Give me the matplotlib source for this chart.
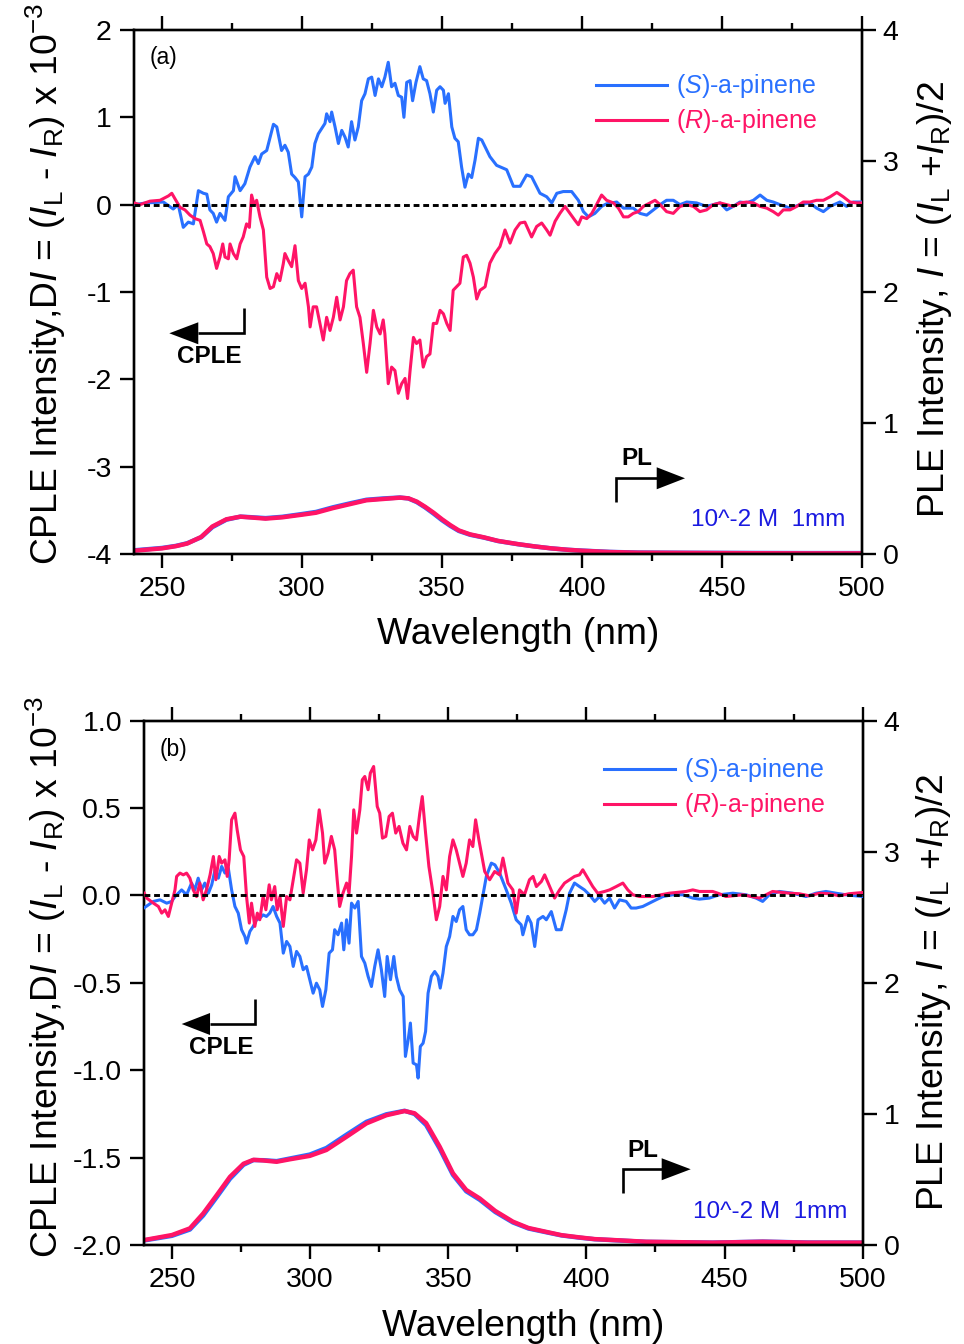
import matplotlib
matplotlib.use("Agg")
import matplotlib.pyplot as plt
from matplotlib.patches import Polygon
from matplotlib.ticker import MultipleLocator, FormatStrFormatter

plt.rcParams['font.family'] = ['Liberation Sans', 'DejaVu Sans']
plt.rcParams['mathtext.fontset'] = 'custom'
plt.rcParams['mathtext.rm'] = 'Liberation Sans'
plt.rcParams['mathtext.it'] = 'Liberation Sans:italic'
plt.rcParams['mathtext.bf'] = 'Liberation Sans:bold'
plt.rcParams['axes.unicode_minus'] = False

BLUE = '#2970FF'
PINK = '#FF1466'
NOTE_BLUE = '#1A1AE0'

# ---------------- panel (a): CPLE (x 10^-3) vs wavelength (nm) ----------------
CPLE_S_A = [
    (240, 0.0), (244.5, 0.02), (250.5, 0.03), (254.0, -0.05), (255.8, 0.0), (257.6, -0.26),
    (259.4, -0.2), (261.2, -0.22), (263.0, 0.16), (264.8, 0.13), (266.0, 0.12), (267.1, -0.06),
    (268.3, -0.1), (269.5, -0.2), (270.7, -0.1), (272.5, -0.18), (273.7, 0.09), (275.5, 0.16),
    (276.1, 0.32), (277.9, 0.16), (279.6, 0.24), (281.4, 0.43), (283.2, 0.55), (284.4, 0.47),
    (285.6, 0.58), (287.4, 0.62), (288.6, 0.77), (289.8, 0.92), (291.0, 0.89), (292.7, 0.62),
    (293.9, 0.68), (295.1, 0.60), (296.3, 0.35), (297.5, 0.31), (298.7, 0.26), (299.9, -0.14),
    (301.1, 0.32), (302.3, 0.35), (303.5, 0.43), (304.6, 0.70), (305.8, 0.81), (307.0, 0.87),
    (308.2, 0.93), (308.8, 1.04), (310.0, 0.95), (310.6, 1.06), (311.8, 0.89), (313.0, 0.70),
    (314.2, 0.85), (315.4, 0.77), (316.5, 0.66), (317.7, 0.95), (318.9, 0.74), (320.1, 0.89),
    (321.3, 1.19), (322.5, 1.27), (323.7, 1.44), (324.9, 1.46), (326.1, 1.25), (327.3, 1.44),
    (328.5, 1.35), (329.6, 1.46), (330.8, 1.63), (332.0, 1.35), (333.2, 1.39), (334.4, 1.25),
    (335.6, 1.23), (336.4, 1.0), (337.4, 1.40), (338.6, 1.42), (339.5, 1.19), (340.7, 1.40),
    (342.1, 1.58), (343.3, 1.44), (344.5, 1.42), (345.7, 1.27), (346.9, 1.06), (348.1, 1.31),
    (349.3, 1.35), (350.5, 1.31), (351.1, 1.16), (352.3, 1.27), (353.5, 0.89), (354.6, 0.76),
    (355.8, 0.72), (357.0, 0.43), (358.2, 0.20), (359.4, 0.35), (360.6, 0.31), (361.8, 0.51),
    (363.0, 0.76), (364.2, 0.74), (367.1, 0.55), (369.5, 0.45), (373.1, 0.40), (375.5, 0.21),
    (377.9, 0.21), (380.2, 0.34), (382.0, 0.32), (385.0, 0.13), (387.4, 0.09), (389.2, 0.02),
    (391.0, 0.13), (393.3, 0.15), (396.3, 0.15), (398.7, 0.05), (400.5, -0.08), (402.3, -0.14),
    (404.6, -0.10), (407.0, -0.02), (408.8, 0.01), (412.4, 0.03), (414.8, -0.04), (418.3, -0.04),
    (420.7, -0.10), (423.1, -0.12), (425.5, -0.06), (427.9, 0.0), (430.2, 0.05), (432.6, 0.05),
    (435.0, 0.0), (437.4, 0.03), (440.9, 0.02), (444.5, -0.02), (446.9, 0.0), (449.3, 0.02),
    (451.7, -0.06), (454.0, -0.02), (456.4, 0.03), (458.8, 0.02), (461.2, 0.05), (463.6, 0.11),
    (466.0, 0.05), (468.3, 0.03), (470.7, 0.0), (474.3, -0.04), (477.9, 0.0), (481.4, 0.02),
    (483.8, -0.04), (486.2, -0.08), (488.6, -0.02), (492.1, 0.03), (494.5, -0.02), (496.9, 0.03),
    (500, 0.03),
]

CPLE_R_A = [
    (240, 0.02), (242.1, 0.0), (245.7, 0.04), (249.3, 0.05), (252.3, 0.10), (253.5, 0.13),
    (254.6, 0.07), (256.4, -0.03), (258.2, -0.06), (260.0, -0.12), (261.8, -0.16), (263.6, -0.18),
    (264.8, -0.31), (266.0, -0.45), (267.1, -0.48), (268.3, -0.56), (269.5, -0.73), (270.7, -0.60),
    (271.7, -0.45), (272.5, -0.60), (273.7, -0.62), (274.3, -0.45), (275.5, -0.56), (276.7, -0.62),
    (277.9, -0.45), (279.0, -0.37), (280.2, -0.22), (281.2, -0.26), (282.0, 0.11), (282.9, 0.0),
    (283.8, 0.05), (285.0, -0.14), (286.2, -0.29), (287.4, -0.83), (288.6, -0.96), (289.8, -0.94),
    (291.0, -0.79), (292.1, -0.87), (293.3, -0.68), (293.9, -0.56), (295.1, -0.64), (296.3, -0.71),
    (297.5, -0.47), (298.7, -0.87), (299.9, -0.96), (301.1, -0.90), (302.3, -1.17), (302.9, -1.40),
    (304.0, -1.17), (305.2, -1.17), (306.4, -1.36), (307.6, -1.55), (308.8, -1.29), (310.0, -1.44),
    (311.2, -1.29), (312.4, -1.06), (313.6, -1.32), (314.8, -1.17), (315.9, -0.87), (317.1, -0.79),
    (318.3, -0.75), (319.5, -1.17), (320.7, -1.29), (321.9, -1.59), (323.1, -1.92), (324.3, -1.59),
    (325.5, -1.21), (326.7, -1.40), (327.9, -1.48), (329.0, -1.32), (329.6, -1.48), (330.8, -2.05),
    (332.0, -1.86), (333.2, -1.90), (334.4, -2.16), (335.6, -2.05), (336.8, -1.99), (337.7, -2.22),
    (338.6, -1.90), (339.8, -1.52), (340.9, -1.59), (342.1, -1.55), (343.3, -1.86), (344.5, -1.74),
    (345.7, -1.71), (346.9, -1.36), (348.1, -1.36), (349.3, -1.21), (350.5, -1.25), (351.7, -1.36),
    (352.9, -1.44), (354.0, -0.98), (355.2, -0.94), (356.4, -0.90), (357.6, -0.60), (358.8, -0.58),
    (360.0, -0.67), (361.2, -0.83), (362.4, -1.08), (363.6, -0.98), (365.4, -0.94), (367.1, -0.67),
    (368.9, -0.56), (370.7, -0.48), (372.5, -0.29), (374.3, -0.44), (376.1, -0.29), (377.9, -0.21),
    (379.6, -0.20), (382.0, -0.37), (383.8, -0.25), (385.6, -0.21), (387.4, -0.29), (388.6, -0.35),
    (390.4, -0.19), (392.1, -0.10), (393.9, -0.02), (395.7, -0.10), (397.5, -0.18), (398.7, -0.23),
    (399.9, -0.14), (401.7, -0.16), (403.5, -0.10), (405.2, 0.0), (407.0, 0.11), (408.8, 0.05),
    (411.2, 0.02), (413.0, -0.04), (414.8, -0.14), (416.5, -0.14), (418.3, -0.10), (420.1, -0.08),
    (421.9, -0.02), (424.3, 0.02), (426.1, 0.05), (427.9, 0.0), (430.2, -0.08), (432.6, -0.10),
    (435.0, -0.02), (437.4, 0.0), (439.8, -0.02), (442.1, -0.08), (444.5, -0.06), (446.9, 0.0),
    (449.3, 0.02), (451.7, 0.0), (454.0, -0.02), (456.4, 0.02), (458.8, 0.03), (461.2, 0.02),
    (463.6, -0.02), (466.0, -0.04), (468.3, -0.08), (470.1, -0.12), (471.9, -0.06), (474.3, -0.06),
    (476.7, -0.02), (479.0, 0.03), (481.4, 0.03), (483.8, 0.05), (486.2, 0.05), (488.6, 0.09),
    (491.0, 0.14), (493.3, 0.09), (495.7, 0.03), (498.1, 0.02), (500, 0.02),
]

# PLE intensity, right axis
PLE_S_A = [
    (240, 0.028), (250, 0.046), (255, 0.062), (259, 0.082), (264, 0.128), (268, 0.205),
    (273, 0.262), (278, 0.285), (281, 0.282), (287, 0.274), (293, 0.284), (300, 0.305),
    (305, 0.321), (311, 0.356), (317, 0.386), (323, 0.414), (329, 0.424), (335, 0.431),
    (338, 0.424), (341, 0.396), (344, 0.355), (347, 0.308), (350, 0.258), (353, 0.214),
    (356, 0.176), (360, 0.147), (365, 0.125), (370, 0.099), (377, 0.075), (383, 0.058),
    (389, 0.043), (395, 0.032), (400, 0.026), (410, 0.016), (420, 0.011), (440, 0.009),
    (460, 0.008), (480, 0.007), (500, 0.007),
]
PLE_R_A = [
    (240, 0.025), (250, 0.043), (255, 0.060), (259, 0.080), (264, 0.130), (268, 0.210),
    (273, 0.265), (278, 0.285), (281, 0.280), (287, 0.270), (293, 0.280), (300, 0.300),
    (305, 0.315), (311, 0.350), (317, 0.380), (323, 0.410), (329, 0.420), (335, 0.430),
    (338, 0.425), (341, 0.400), (344, 0.360), (347, 0.315), (350, 0.265), (353, 0.220),
    (356, 0.180), (360, 0.150), (365, 0.127), (370, 0.100), (377, 0.076), (383, 0.058),
    (389, 0.043), (395, 0.032), (400, 0.025), (410, 0.015), (420, 0.010), (440, 0.008),
    (460, 0.006), (480, 0.005), (500, 0.005),
]

# ---------------- panel (b) ----------------
CPLE_S_B = [
    (240, -0.07), (243.3, -0.034), (245.7, -0.025), (248.1, -0.044), (249.9, -0.034),
    (251.1, -0.006), (252.3, 0.013), (253.5, 0.032), (255.3, 0.004), (257.1, 0.071),
    (258.3, 0.032), (259.5, 0.099), (260.7, 0.032), (261.9, 0.071), (263.2, 0.013),
    (264.4, 0.061), (265.6, 0.147), (266.8, 0.099), (268.0, 0.166), (269.2, 0.128),
    (270.4, 0.156), (271.6, 0.032), (272.8, -0.063), (274.0, -0.101), (275.2, -0.196),
    (276.4, -0.235), (277.0, -0.273), (278.2, -0.206), (279.4, -0.177), (280.6, -0.139),
    (281.8, -0.13), (283.0, -0.111), (284.2, -0.12), (285.4, -0.101), (286.6, -0.063),
    (287.9, -0.12), (289.1, -0.158), (290.3, -0.33), (291.5, -0.263), (292.7, -0.292),
    (293.9, -0.406), (295.1, -0.32), (296.3, -0.349), (297.5, -0.425), (298.7, -0.406),
    (299.9, -0.482), (301.1, -0.559), (302.3, -0.502), (303.5, -0.54), (304.5, -0.635),
    (305.7, -0.54), (306.9, -0.33), (308.1, -0.311), (308.9, -0.196), (310.1, -0.225),
    (311.4, -0.158), (312.2, -0.311), (313.2, -0.139), (314.1, -0.273), (315.0, -0.044),
    (316.2, -0.072), (317.4, -0.034), (318.6, -0.349), (319.8, -0.387), (321.0, -0.463),
    (322.2, -0.521), (323.4, -0.406), (324.6, -0.311), (325.8, -0.425), (327.0, -0.578),
    (327.9, -0.349), (329.1, -0.482), (330.3, -0.349), (331.2, -0.463), (332.4, -0.54),
    (333.7, -0.578), (334.5, -0.921), (335.5, -0.826), (336.3, -0.73), (337.3, -0.959),
    (338.5, -0.969), (339.1, -1.045), (339.9, -0.864), (340.9, -0.845), (341.8, -0.778),
    (342.7, -0.559), (343.9, -0.463), (345.1, -0.435), (346.3, -0.463), (347.1, -0.53),
    (348.1, -0.444), (349.3, -0.292), (350.5, -0.235), (351.7, -0.12), (352.9, -0.149),
    (354.1, -0.082), (355.3, -0.063), (356.5, -0.196), (357.7, -0.225), (358.9, -0.225),
    (360.2, -0.196), (361.4, -0.101), (363.8, 0.11), (365.6, 0.185), (366.9, 0.175),
    (368.6, 0.128), (371.0, 0.032), (372.8, -0.044), (374.6, -0.139), (376.4, -0.168),
    (377.0, -0.225), (378.8, -0.12), (380.0, -0.158), (381.3, -0.292), (382.5, -0.139),
    (384.3, -0.12), (385.5, -0.139), (387.3, -0.092), (389.1, -0.196), (390.9, -0.196),
    (392.7, -0.082), (393.9, 0.013), (395.7, 0.071), (397.5, 0.051), (399.3, 0.032),
    (401.1, 0.004), (403.0, -0.034), (404.8, -0.006), (406.6, -0.044), (408.4, -0.015),
    (410.2, -0.072), (412.0, -0.025), (414.4, -0.034), (416.2, -0.072), (418.0, -0.072),
    (420.4, -0.063), (422.8, -0.044), (425.2, -0.025), (427.7, -0.006), (431.3, 0.004),
    (434.9, 0.004), (438.5, -0.015), (440.9, -0.021), (444.5, -0.015), (448.1, 0.004),
    (453.0, 0.013), (457.8, 0.004), (461.4, -0.015), (463.8, -0.034), (466.2, 0.004),
    (469.8, 0.023), (474.6, 0.013), (479.5, -0.006), (483.1, 0.013), (486.7, 0.023),
    (490.3, 0.013), (493.9, 0.004), (500, -0.006),
]

CPLE_R_B = [
    (240, 0.013), (240.9, -0.015), (243.3, -0.044), (245.1, -0.063), (246.3, -0.101),
    (247.5, -0.082), (248.7, -0.12), (249.9, -0.044), (251.1, 0.032), (251.7, 0.109),
    (252.9, 0.128), (254.1, 0.118), (255.3, 0.128), (256.5, 0.099), (257.7, 0.032),
    (258.9, -0.006), (260.1, 0.071), (261.3, -0.025), (262.5, 0.032), (263.8, 0.118),
    (265.0, 0.223), (265.9, 0.09), (267.1, 0.223), (268.0, 0.185), (269.2, 0.204),
    (270.0, 0.109), (270.7, 0.204), (271.6, 0.433), (272.8, 0.471), (273.6, 0.376),
    (274.8, 0.261), (276.0, 0.223), (277.0, -0.006), (278.0, -0.158), (278.8, -0.044),
    (280.0, -0.177), (280.9, -0.101), (281.8, -0.139), (283.0, -0.006), (284.0, -0.082),
    (285.2, 0.061), (286.0, -0.025), (287.2, 0.051), (288.1, -0.082), (289.1, -0.006),
    (290.3, -0.177), (291.5, -0.006), (292.7, -0.025), (293.9, 0.09), (295.1, 0.204),
    (296.3, 0.185), (297.5, 0.013), (298.7, 0.147), (299.7, 0.318), (300.9, 0.261),
    (302.1, 0.318), (303.3, 0.49), (304.5, 0.357), (305.3, 0.185), (306.5, 0.242),
    (307.7, 0.338), (308.9, 0.261), (309.8, 0.09), (310.7, -0.063), (311.9, 0.013),
    (313.2, 0.071), (314.1, 0.013), (315.0, 0.223), (315.8, 0.49), (316.8, 0.357),
    (318.0, 0.49), (318.9, 0.662), (319.8, 0.681), (321.0, 0.605), (321.8, 0.70),
    (323.0, 0.738), (324.3, 0.509), (325.2, 0.471), (326.2, 0.328), (327.4, 0.338),
    (328.6, 0.452), (329.8, 0.471), (331.0, 0.357), (332.2, 0.395), (333.6, 0.299),
    (334.9, 0.261), (336.1, 0.395), (337.3, 0.338), (338.5, 0.318), (339.7, 0.471),
    (340.6, 0.566), (341.8, 0.357), (343.0, 0.166), (344.3, 0.032), (345.7, -0.139),
    (346.9, -0.063), (348.1, 0.109), (349.3, 0.032), (350.5, 0.223), (351.7, 0.318),
    (352.9, 0.261), (354.1, 0.185), (355.3, 0.109), (356.5, 0.185), (357.7, 0.318),
    (358.9, 0.28), (359.9, 0.433), (361.1, 0.318), (363.2, 0.137), (365.0, 0.09),
    (366.8, 0.137), (368.6, 0.118), (369.8, 0.214), (371.6, 0.071), (373.4, 0.032),
    (374.6, -0.101), (375.8, 0.032), (377.6, 0.004), (379.4, 0.09), (380.7, 0.109),
    (381.9, 0.051), (383.7, 0.08), (384.9, 0.118), (386.7, 0.051), (388.5, -0.015),
    (390.3, 0.032), (392.1, 0.071), (393.9, 0.09), (395.7, 0.109), (397.5, 0.118),
    (398.7, 0.147), (400.5, 0.099), (402.3, 0.051), (404.1, 0.013), (406.6, 0.023),
    (408.4, 0.032), (410.8, 0.051), (413.2, 0.071), (415.0, 0.032), (416.8, 0.004),
    (419.2, -0.006), (424.0, -0.006), (427.0, 0.004), (430.0, 0.013), (436.1, 0.023),
    (438.5, 0.032), (440.9, 0.023), (445.7, 0.023), (448.1, 0.01), (450.5, -0.006),
    (456.6, 0.004), (462.6, -0.015), (465.0, 0.004), (467.4, 0.023), (473.4, 0.013),
    (477.0, 0.01), (480.7, -0.002), (484.3, 0.013), (487.9, 0.01), (491.5, -0.002),
    (495.1, 0.01), (500, 0.017),
]

PLE_S_B = [
    (240, 0.035), (250, 0.070), (256.5, 0.118), (261.3, 0.225), (266.2, 0.365), (271, 0.505),
    (275.9, 0.612), (279.5, 0.648), (283.1, 0.647), (287.9, 0.640), (292.7, 0.660), (299.9, 0.690),
    (305.9, 0.740), (313.2, 0.842), (320.4, 0.940), (327.6, 0.997), (334.2, 1.024), (337.8, 1.000),
    (342, 0.915), (346.9, 0.735), (351.7, 0.535), (356.5, 0.410), (361.4, 0.345), (367, 0.252),
    (373.4, 0.172), (379, 0.126), (385.5, 0.097), (391, 0.073), (397.5, 0.056), (403, 0.044),
    (409.6, 0.037), (421.6, 0.024), (445.7, 0.018), (463.8, 0.026), (480, 0.019), (500, 0.018),
]
PLE_R_B = [
    (240, 0.038), (250, 0.076), (256.5, 0.127), (261.3, 0.240), (266.2, 0.380), (271, 0.520),
    (275.9, 0.620), (279.5, 0.650), (283.1, 0.645), (287.9, 0.635), (292.7, 0.654), (299.9, 0.680),
    (305.9, 0.725), (313.2, 0.826), (320.4, 0.928), (327.6, 0.990), (334.2, 1.022), (337.8, 1.005),
    (342, 0.930), (346.9, 0.750), (351.7, 0.547), (356.5, 0.420), (361.4, 0.355), (367, 0.260),
    (373.4, 0.178), (379, 0.130), (385.5, 0.100), (391, 0.075), (397.5, 0.058), (403, 0.045),
    (409.6, 0.038), (421.6, 0.025), (445.7, 0.018), (463.8, 0.025), (480, 0.018), (500, 0.018),
]

LABEL_S = r'($\mathit{S}$)-a-pinene'
LABEL_R = r'($\mathit{R}$)-a-pinene'
XLABEL = 'Wavelength (nm)'
YLABEL_L = (r'CPLE Intensity,D$\mathit{I}$ = ($\mathit{I}_{\mathrm{L}}$ - '
            r'$\mathit{I}_{\mathrm{R}}$) x 10$^{\mathrm{-3}}$')
YLABEL_R = r'PLE Intensity, $\mathit{I}$ = ($\mathit{I}_{\mathrm{L}}$ +$\mathit{I}_{\mathrm{R}}$)/2'
NOTE = '10^-2 M  1mm'

TICK_SIZE = 20.5
LABEL_SIZE = 26.8


def unzip(pairs):
    xs, ys = zip(*pairs)
    return list(xs), list(ys)


def elbow_arrow(ax, path, head_base, tip, y, half_h):
    xs, ys = zip(*path)
    ax.plot(xs, ys, transform=ax.transAxes, color='k', lw=1.9, clip_on=False,
            solid_joinstyle='miter', solid_capstyle='butt', zorder=6)
    ax.add_patch(Polygon([(head_base, y - half_h), (tip, y), (head_base, y + half_h)],
                         closed=True, transform=ax.transAxes, color='k', lw=0, zorder=6))


def panel(fig, rect, cple_s, cple_r, ple_s, ple_r, ylim, ystep, yfmt, tag, lay):
    ax = fig.add_axes(rect)
    ax2 = ax.twinx()

    xs, ys = unzip(cple_s)
    ax.plot(xs, ys, color=BLUE, lw=2.2, label=LABEL_S, zorder=3)
    xr, yr = unzip(cple_r)
    ax.plot(xr, yr, color=PINK, lw=2.2, label=LABEL_R, zorder=3.1)
    ax.axhline(0, color='k', lw=2.1, ls=(0, (2.0, 1.3)), zorder=4)

    px, py = unzip(ple_s)
    ax2.plot(px, py, color=BLUE, lw=3.2, solid_capstyle='butt')
    qx, qy = unzip(ple_r)
    ax2.plot(qx, qy, color=PINK, lw=3.2, solid_capstyle='butt')

    ax.set_xlim(240, 500)
    ax.set_ylim(*ylim)
    ax2.set_ylim(0, 4)
    ax.xaxis.set_major_locator(MultipleLocator(50))
    ax.xaxis.set_minor_locator(MultipleLocator(25))
    ax.yaxis.set_major_locator(MultipleLocator(ystep))
    ax.yaxis.set_major_formatter(FormatStrFormatter(yfmt))
    ax2.yaxis.set_major_locator(MultipleLocator(1))
    ax2.yaxis.set_major_formatter(FormatStrFormatter('%d'))

    for a in (ax, ax2):
        for s in a.spines.values():
            s.set_linewidth(1.7)
    ax.tick_params(axis='x', which='both', direction='out', top=True, bottom=True,
                   width=1.7, labelsize=TICK_SIZE, pad=6)
    ax.tick_params(axis='x', which='major', length=10)
    ax.tick_params(axis='x', which='minor', length=5)
    ax.tick_params(axis='y', which='major', direction='out', length=10, width=1.7,
                   labelsize=TICK_SIZE, pad=6)
    ax2.tick_params(axis='y', which='major', direction='out', length=10, width=1.7,
                    labelsize=TICK_SIZE, pad=5)

    ax.text(lay['xlab'][0], lay['xlab'][1], XLABEL, transform=ax.transAxes,
            ha='center', va='center', fontsize=LABEL_SIZE)
    ax.text(lay['ylab'][0], lay['ylab'][1], YLABEL_L, transform=ax.transAxes,
            ha='center', va='center', rotation=90, fontsize=LABEL_SIZE)
    ax.text(lay['rlab'][0], lay['rlab'][1], YLABEL_R, transform=ax.transAxes,
            ha='center', va='center', rotation=90, fontsize=LABEL_SIZE)

    ax.text(lay['tag'][0], lay['tag'][1], tag, transform=ax.transAxes,
            ha='left', va='center', fontsize=16.5)

    leg = ax.legend(loc='upper left', bbox_to_anchor=lay['leg'], frameon=False,
                    fontsize=18, handlelength=2.85, handletextpad=0.35,
                    labelspacing=0.28, borderaxespad=0, borderpad=0)
    for line, text in zip(leg.get_lines(), leg.get_texts()):
        text.set_color(line.get_color())

    # CPLE pointer (left axis)
    cx, cy0, cy1, hb, tip = lay['cple_arrow']
    elbow_arrow(ax, [(cx, cy0), (cx, cy1), (hb, cy1)], hb, tip, cy1, 0.021)
    ax.text(lay['cple_txt'][0], lay['cple_txt'][1], 'CPLE', transform=ax.transAxes,
            ha='center', va='center', fontsize=17.5, fontweight='bold')

    # PL pointer (right axis)
    px0, py0, py1, phb, ptip = lay['pl_arrow']
    elbow_arrow(ax, [(px0, py0), (px0, py1), (phb, py1)], phb, ptip, py1, 0.021)
    ax.text(lay['pl_txt'][0], lay['pl_txt'][1], 'PL', transform=ax.transAxes,
            ha='center', va='center', fontsize=17.5, fontweight='bold')

    ax.text(lay['note'][0], lay['note'][1], NOTE, transform=ax.transAxes,
            ha='right', va='center', fontsize=17.5, color=NOTE_BLUE)

    ax.set_zorder(ax2.get_zorder() + 1)
    ax.patch.set_visible(False)
    return ax, ax2


fig = plt.figure(figsize=(9.64, 13.44), dpi=100)

LAYOUT_A = dict(
    xlab=(0.527, -0.153), ylab=(-0.121, 0.515), rlab=(1.099, 0.485),
    tag=(0.022, 0.947), leg=(0.6346, 0.919),
    cple_arrow=(0.1515, 0.469, 0.4212, 0.0883, 0.0485), cple_txt=(0.104, 0.376),
    pl_arrow=(0.6621, 0.0998, 0.1445, 0.718, 0.7569), pl_txt=(0.6905, 0.1826),
    note=(0.9766, 0.064),
)
LAYOUT_B = dict(
    xlab=(0.528, -0.155), ylab=(-0.137, 0.511), rlab=(1.099, 0.4825),
    tag=(0.022, 0.946), leg=(0.6400, 0.932),
    cple_arrow=(0.154, 0.4686, 0.4215, 0.0915, 0.052), cple_txt=(0.1065, 0.376),
    pl_arrow=(0.666, 0.0998, 0.1445, 0.7202, 0.7606), pl_txt=(0.6946, 0.180),
    note=(0.9792, 0.063),
)

panel(fig, [0.139, 0.5878, 0.7552, 0.3899], CPLE_S_A, CPLE_R_A, PLE_S_A, PLE_R_A,
      (-4, 2), 1, '%d', '(a)', LAYOUT_A)
panel(fig, [0.1497, 0.07366, 0.7452, 0.3901], CPLE_S_B, CPLE_R_B, PLE_S_B, PLE_R_B,
      (-2.0, 1.0), 0.5, '%.1f', '(b)', LAYOUT_B)

fig.savefig('out.png', dpi=100)
